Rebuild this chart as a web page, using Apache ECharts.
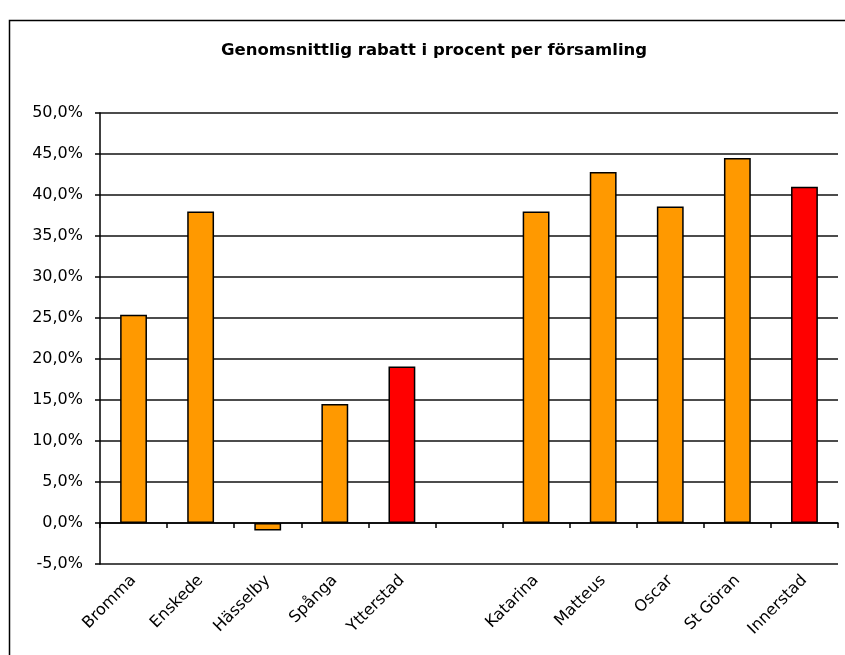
<!DOCTYPE html>
<html>
<head>
<meta charset="utf-8">
<script src="https://cdn.jsdelivr.net/npm/echarts@6/dist/echarts.min.js"></script>
<style>
  html, body { margin: 0; padding: 0; background: #fff; }
  #chart { width: 845px; height: 655px; }
</style>
</head>
<body>
<div id="chart"></div>
<script>
// Average discount (percent) per parish; the blank slot separates the two districts
const parishes = ['Bromma', 'Enskede', 'Hässelby', 'Spånga', 'Ytterstad', '', 'Katarina', 'Matteus', 'Oscar', 'St Göran', 'Innerstad'];
const discountPct = [25.4, 38.0, -0.9, 14.5, 19.1, null, 38.0, 42.8, 38.6, 44.5, 41.0];
// District totals are drawn in red
const districtTotals = ['Ytterstad', 'Innerstad'];
const yTicks = { min: -5, max: 50, step: 5 };

const FONT = 'DejaVu Sans';

const chart = echarts.init(document.getElementById('chart'), null, { renderer: 'canvas' });

const barData = discountPct.map((v, i) => ({
  value: v,
  itemStyle: { color: districtTotals.includes(parishes[i]) ? '#FF0000' : '#FF9900' }
}));

chart.setOption({
  animation: false,
  backgroundColor: '#ffffff',
  title: {
    text: 'Genomsnittlig rabatt i procent per församling',
    left: 429,
    textAlign: 'center',
    top: 37,
    textStyle: { fontFamily: FONT, fontWeight: 'bold', fontSize: 16.5, color: '#000' }
  },
  graphic: [{
    type: 'rect',
    shape: { x: 9.5, y: 20.5, width: 900, height: 700 },
    style: { fill: 'none', stroke: '#000', lineWidth: 1.5 },
    silent: true,
    z: -1
  }],
  grid: { left: 100, right: 7, top: 113, bottom: 91, containLabel: false },
  xAxis: [
    {
      // axis line across zero with boundary ticks
      type: 'category',
      data: parishes,
      position: 'bottom',
      axisLine: { onZero: true, lineStyle: { color: '#000', width: 1.5 } },
      axisTick: { show: true, interval: 0, length: 5, lineStyle: { color: '#000', width: 1.5 } },
      axisLabel: { show: false },
      splitLine: { show: false },
      z: 5
    },
    {
      // category names along the bottom edge
      type: 'category',
      data: parishes,
      position: 'bottom',
      axisLine: { show: false, onZero: false },
      axisTick: { show: false },
      axisLabel: {
        interval: 0,
        rotate: 45,
        margin: 14,
        fontFamily: FONT,
        fontSize: 16,
        color: '#000'
      },
      splitLine: { show: false }
    }
  ],
  yAxis: {
    type: 'value',
    min: yTicks.min,
    max: yTicks.max,
    interval: yTicks.step,
    axisLine: { show: true, lineStyle: { color: '#000', width: 1.5 } },
    axisTick: { show: true, length: 5, lineStyle: { color: '#000', width: 1.5 } },
    axisLabel: {
      margin: 17,
      fontFamily: FONT,
      fontSize: 16,
      color: '#000',
      formatter: v => v.toFixed(1).replace('.', ',') + '%'
    },
    splitLine: { show: true, lineStyle: { color: '#111', width: 1.5 } }
  },
  series: [{
    type: 'bar',
    xAxisIndex: 0,
    data: barData,
    barWidth: '40%',
    itemStyle: { borderColor: '#000', borderWidth: 1.5 }
  }]
});
</script>
</body>
</html>
